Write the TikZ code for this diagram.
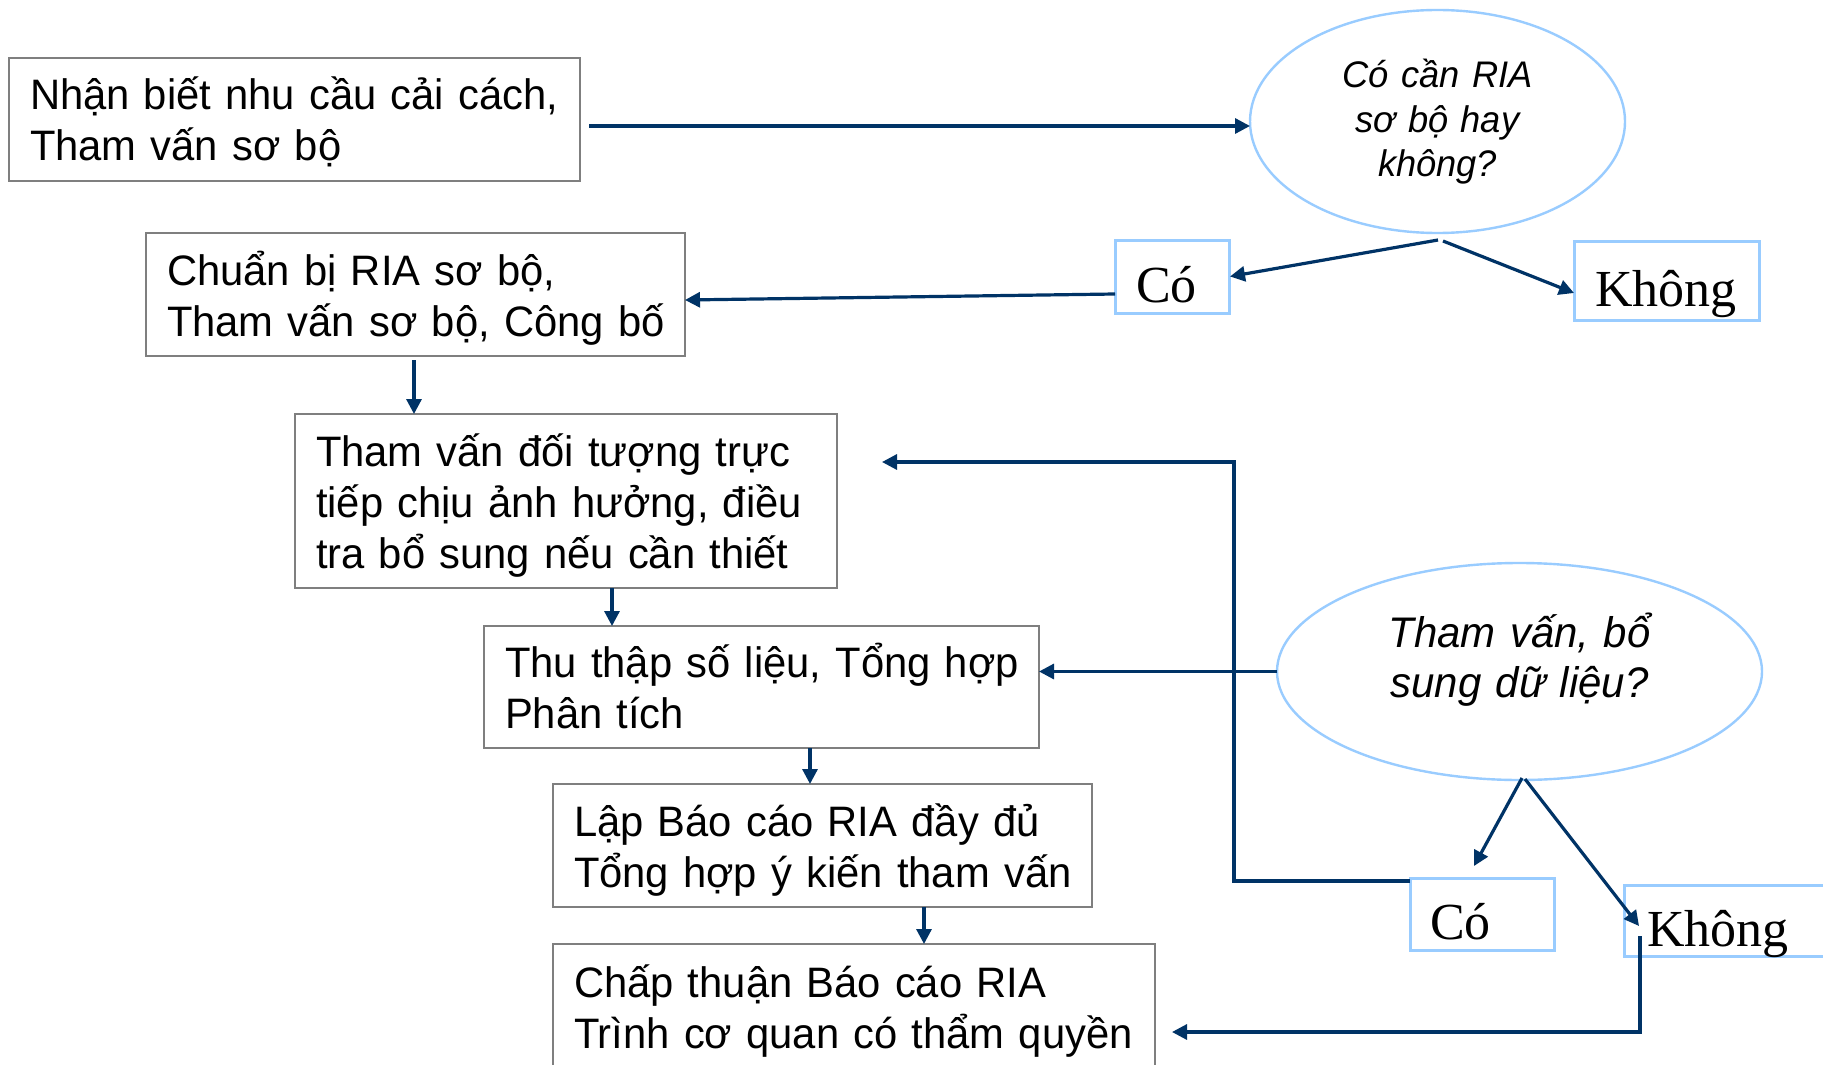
\documentclass[tikz,border=0pt]{standalone}
\usepackage{fontspec}
\setmainfont{Liberation Sans}[FakeStretch=0.98]
\newfontfamily\serifv{Liberation Serif}
\usetikzlibrary{calc,arrows.meta,shapes.geometric}
\definecolor{navy}{HTML}{003366}
\definecolor{lblue}{HTML}{99CCFF}
\definecolor{bgray}{HTML}{7F7F7F}
\tikzset{
  box/.style={draw=bgray, line width=1pt, rectangle, anchor=north west, outer sep=0pt,
    inner xsep=10.5pt, inner ysep=0pt, align=left,
    font=\fontsize{21.3pt}{25.5pt}\selectfont, text height=16pt},
  ans/.style={draw=lblue, line width=1.5pt, rectangle, anchor=north west, outer sep=0pt,
    inner ysep=0pt, align=left, font=\serifv\fontsize{26pt}{30pt}\selectfont,
    text height=25.5pt, text depth=0pt},
  qnode/.style={draw=lblue, line width=1.2pt, ellipse, inner sep=0pt, outer sep=0pt, align=center},
  arr/.style={draw=navy, line width=1.6pt, -{Triangle[length=7.5pt,width=7.5pt]}},
}
\begin{document}
\begin{tikzpicture}[x=0.5pt,y=-0.5pt]
\fill[white] (0,0) rectangle (1823,1064);
\useasboundingbox (0,0) rectangle (1823,1064);

% process boxes
\node[box, minimum width=285.5pt, minimum height=61.5pt, text width=264.5pt, text depth=25.5pt]
  (b1) at (9,58) {\mbox{Nhận biết nhu cầu cải cách,}\\\mbox{Tham vấn sơ bộ}};
\node[box, minimum width=269.5pt, minimum height=61.5pt, text width=248.5pt, text depth=25.5pt]
  (b2) at (146,233) {\mbox{Chuẩn bị RIA sơ bộ,}\\\mbox{Tham vấn sơ bộ, Công bố}};
\node[box, minimum width=271pt, minimum height=87pt, text width=250pt, text depth=51pt]
  (b3) at (295,414) {\mbox{Tham vấn đối tượng trực}\\\mbox{tiếp chịu ảnh hưởng, điều}\\\mbox{tra bổ sung nếu cần thiết}};
\node[box, minimum width=277.5pt, minimum height=61pt, text width=256.5pt, text depth=25.5pt]
  (b4) at (484,626) {\mbox{Thu thập số liệu, Tổng hợp}\\\mbox{Phân tích}};
\node[box, minimum width=269.5pt, minimum height=61.5pt, text width=248.5pt, text depth=25.5pt]
  (b5) at (553,784) {\mbox{Lập Báo cáo RIA đầy đủ}\\\mbox{Tổng hợp ý kiến tham vấn}};
\node[box, minimum width=301pt, minimum height=62.5pt, text width=280pt, text depth=25.5pt]
  (b6) at (553,944) {\mbox{Chấp thuận Báo cáo RIA}\\\mbox{Trình cơ quan có thẩm quyền}};

% decision ellipses
\node[qnode, minimum width=187.5pt, minimum height=111.5pt, text width=110pt,
  font=\itshape\fontsize{18.5pt}{22.25pt}\selectfont, text height=11pt, text depth=44.5pt]
  (q1) at (1437.5,121.5) {Có cần RIA\\sơ bộ hay\\không?};
\node[qnode, minimum width=242.5pt, minimum height=108.5pt, text width=150pt,
  font=\itshape\fontsize{21.4pt}{25pt}\selectfont, text height=0.5pt, text depth=25pt]
  (q2) at (1519.5,671.5) {Tham vấn, bổ\\sung dữ liệu?};

% answer boxes
\node[ans, minimum width=57pt, minimum height=36.5pt, inner xsep=10.5pt, text width=36pt]
  (c1) at (1115,240) {\mbox{Có}};
\node[ans, minimum width=92.5pt, minimum height=39.5pt, inner xsep=10.5pt, text width=71.5pt]
  (k1) at (1574,241) {\mbox{Không}};
\node[ans, minimum width=72pt, minimum height=36pt, inner xsep=10pt, text width=52pt]
  (c2) at (1410,878) {\mbox{Có}};
\node[ans, minimum width=115pt, minimum height=35.5pt, inner xsep=11.5pt, text width=92pt]
  (k2) at (1624,885) {\mbox{Không}};

% connectors
\draw[arr] ($(b1.north east)+(9,68)$) -- ($(q1.west)+(0,4.5)$);
\draw[arr] ($(q1.south)+(0.5,7)$) -- ($(c1.east)+(1,0)$);
\draw[arr] ($(q1.south)+(5.5,8)$) -- ($(k1.west)+(0,12.5)$);
\draw[arr] ($(c1.west)+(0,17.5)$) -- ($(b2.east)+(0,5.5)$);
\draw[arr] ($(b2.south west)+(268,4)$) -- ($(b3.north west)+(119,0)$);
\draw[arr] ($(b3.south west)+(317,0)$) -- ($(b4.north west)+(128,0)$);
\draw[arr] ($(b4.south west)+(326,0)$) -- ($(b5.north west)+(257,0)$);
\draw[arr] ($(b5.south west)+(371,0)$) -- ($(b6.north west)+(371,0)$);
\draw[arr] (q2.west) -- (q2.west -| b4.east);
\draw[arr] ($(q2.south)+(2.5,-2)$) -- ($(c2.north west)+(64,-12)$);
\draw[arr] ($(q2.south)+(5.5,-1)$) -- ($(k2.north west)+(15,41)$);
\coordinate (t3) at ($(b3.north east)+(45,48)$);
\draw[arr] ($(c2.north west)+(0,3)$) -| ($(t3)+(352,0)$) -- (t3);
\draw[arr] ($(k2.north west)+(16,51)$) |- ($(b6.north east)+(17,88)$);
\end{tikzpicture}
\end{document}
